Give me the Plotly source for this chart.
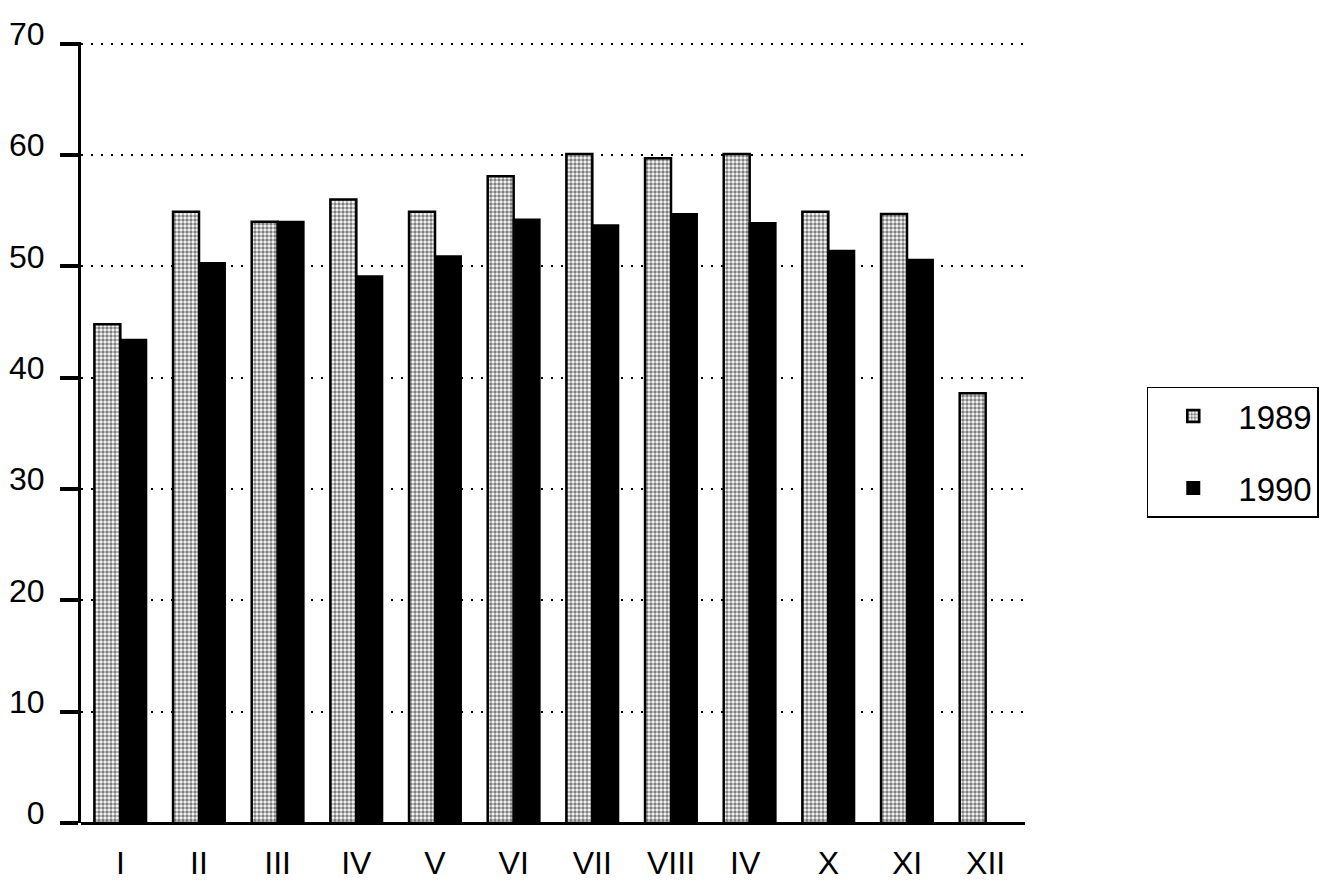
import plotly.graph_objects as go

months = ["I", "II", "III", "IV", "V", "VI", "VII", "VIII", "IV ", "X", "XI", "XII"]
values_1989 = [44.8, 54.9, 54.0, 56.0, 54.9, 58.1, 60.1, 59.7, 60.1, 54.9, 54.7, 38.6]
values_1990 = [43.4, 50.3, 54.0, 49.1, 50.9, 54.2, 53.7, 54.7, 53.9, 51.4, 50.6, None]
y_ticks = [0, 10, 20, 30, 40, 50, 60, 70]

FONT = "Liberation Sans, Arial, Helvetica, sans-serif"

fig = go.Figure()
fig.add_trace(go.Bar(
    x=months, y=values_1989, name="1989", legendgroup="a",
    marker=dict(color="white",
                line=dict(color="black", width=2.5),
                pattern=dict(shape=".", fgcolor="black", bgcolor="white",
                             size=4, solidity=0.6)),
))
fig.add_trace(go.Bar(
    x=months, y=values_1990, name="1990", legendgroup="b",
    marker=dict(color="black", line=dict(color="black", width=2)),
))

fig.update_layout(
    width=1320, height=878,
    margin=dict(l=73, r=303, t=34, b=63, autoexpand=False),
    paper_bgcolor="white", plot_bgcolor="white",
    barmode="group", bargap=0.34, bargroupgap=0,
    font=dict(family=FONT, size=33, color="black"),
    showlegend=True,
    legend=dict(x=1.129, y=0.475, xanchor="left", yanchor="middle",
                bordercolor="black", borderwidth=1.5, bgcolor="white",
                font=dict(size=33), itemwidth=80, tracegroupgap=26,
                traceorder="grouped"),
    xaxis=dict(type="category", range=[-0.5, 11.5], showgrid=False,
               showline=False, ticks="", ticklabelstandoff=18,
               tickfont=dict(size=32), zeroline=False, automargin=False),
    yaxis=dict(range=[0, 70.15], tickvals=y_ticks, showgrid=True,
               gridcolor="black", griddash="2px,8px", gridwidth=2,
               showline=True, linecolor="black", linewidth=3,
               ticks="outside", ticklen=18, tickwidth=4, tickcolor="black",
               ticklabelstandoff=9, ticklabelshift=-10, tickfont=dict(size=32),
               zeroline=True, zerolinecolor="black", zerolinewidth=3,
               automargin=False),
)

fig.write_html("out.html")
